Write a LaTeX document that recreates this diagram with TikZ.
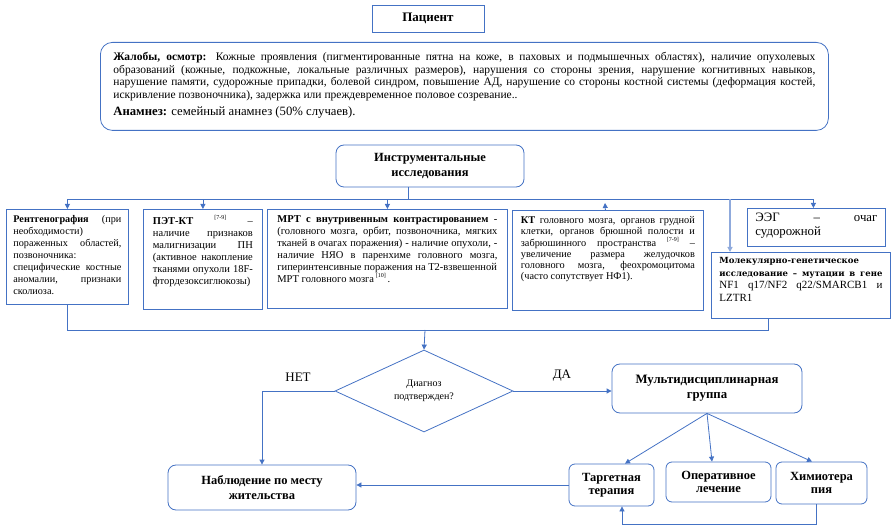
\documentclass[tikz,border=0pt]{standalone}
\usepackage{fontspec}
\setmainfont{Liberation Serif}
\newfontfamily\dvs{DejaVu Serif}
\usetikzlibrary{arrows.meta,shapes.geometric}
\definecolor{bl}{HTML}{4472C4}
\definecolor{lbl}{HTML}{8FAADC}
\newcommand{\pb}[3]{\parbox[b][#2][t]{#1}{#3}}
\newcommand{\rf}[1]{\raisebox{5pt}{\fontsize{6}{6}\selectfont[#1]}}
\hyphenpenalty=10000
\begin{document}
\begin{tikzpicture}[x=1pt,y=-1pt,
  box/.style={draw=bl, line width=0.8pt, fill=white, text=black},
  tbox/.style={box, anchor=north west},
  ln/.style={draw=bl, line width=0.8pt},
  arr/.style={ln, -{Triangle[width=5pt,length=5pt]}},
  hd/.style={font=\bfseries\fontsize{12.5}{15}\selectfont, align=center}
]
\useasboundingbox (0,0) rectangle (892,529);

% --- top
\node[box, hd, minimum width=112pt, minimum height=27pt, font=\bfseries\fontsize{13}{15}\selectfont] (pat) at (428,18.5) {Пациент};

\node[tbox, rounded corners=12pt, inner xsep=13pt, inner ysep=10pt] (compl) at (100,42)
{\pb{702pt}{68pt}{\fontsize{11.5}{12.6}\selectfont
\textbf{Жалобы, осмотр:} Кожные проявления (пигментированные пятна на коже, в паховых и подмышечных областях), наличие опухолевых\linebreak
образований (кожные, подкожные, локальные различных размеров), нарушения со стороны зрения, нарушение когнитивных навыков,\linebreak
нарушение памяти, судорожные припадки, болевой синдром, повышение АД, нарушение со стороны костной системы (деформация костей,\linebreak
искривление позвоночника), задержка или преждевременное половое созревание..\par
\vspace{4pt}{\fontsize{12.7}{13}\selectfont\textbf{Анамнез:} семейный анамнез (50\% случаев).\par}}};

\node[box, hd, rounded corners=8pt, minimum width=188pt, minimum height=42pt] (instr) at (430,166) {Инструментальные\\исследования};

% --- investigations
\node[tbox, inner xsep=7pt, inner ysep=6pt] (rent) at (6,209)
{\pb{108pt}{83pt}{\fontsize{10.2}{12}\selectfont
\textbf{Рентгенография} (при\linebreak необходимости)\newline пораженных областей,\linebreak позвоночника:\newline специфические костные\linebreak аномалии, признаки\linebreak сколиоза.}};

\node[tbox, inner xsep=9.5pt, inner ysep=6pt] (pet) at (143,209)
{\pb{100pt}{88pt}{\fontsize{10.5}{12}\selectfont
\textbf{ПЭТ-КТ} \rf{7-9} –\linebreak наличие признаков\linebreak малигнизации ПН\linebreak (активное накопление\linebreak тканями опухоли 18F-\linebreak фтордезоксиглюкозы)}};

\node[tbox, inner xsep=10pt, inner ysep=6pt] (mri) at (267,209)
{\pb{220pt}{87pt}{\fontsize{10.5}{12}\selectfont
\textbf{МРТ с внутривенным контрастированием} -\linebreak (головного мозга, орбит, позвоночника, мягких\linebreak тканей в очагах поражения) - наличие опухоли, -\linebreak наличие НЯО в паренхиме головного мозга,\linebreak гиперинтенсивные поражения на Т2-взвешенной\newline МРТ головного мозга\,\rf{10}\,.}};

\node[tbox, inner xsep=8.5pt, inner ysep=6pt] (kt) at (512,210)
{\pb{174pt}{88pt}{\fontsize{10.3}{10.8}\selectfont
\textbf{КТ} головного мозга, органов грудной\linebreak клетки, органов брюшной полости и\linebreak забрюшинного пространства \rf{7-9} –\linebreak увеличение размера желудочков\linebreak головного мозга, феохромоцитома\linebreak (часто сопутствует НФ1).}};

\node[tbox, inner xsep=8pt, inner ysep=5pt] (eeg) at (747,208)
{\pb{122pt}{28pt}{\fontsize{12.8}{14}\selectfont ЭЭГ – очаг\linebreak судорожной}};

\node[tbox, inner xsep=8pt, inner ysep=5pt] (mol) at (711,252)
{\pb{163pt}{56pt}{\fontsize{11}{12.5}\selectfont
{\dvs\bfseries\fontsize{8.5}{12.5}\selectfont Молекулярно-генетическое\newline исследование – мутации в гене}\linebreak NF1 q17/NF2 q22/SMARCB1 и\linebreak LZTR1}};

% --- decision
\node[draw=bl, line width=0.8pt, diamond, aspect=2.2, minimum width=178pt, minimum height=82pt, inner sep=0pt, align=center, font=\fontsize{10}{13}\selectfont] (diam) at (424,391) {Диагноз\\подтвержден?};
\node[font=\fontsize{13}{15}\selectfont] (net) at (298,377) {НЕТ};
\node[font=\fontsize{13}{15}\selectfont] (da) at (562,376) {ДА};

\node[box, hd, rounded corners=8pt, minimum width=190pt, minimum height=49pt, font=\bfseries\fontsize{12.8}{15}\selectfont] (multi) at (707,388.5) {Мультидисциплинарная\\группа};
\node[box, hd, rounded corners=8pt, minimum width=188pt, minimum height=45pt] (obs) at (262,487.5) {Наблюдение по месту\\жительства};
\node[box, hd, rounded corners=6pt, minimum width=85pt, minimum height=42pt, font=\bfseries\fontsize{12.5}{13.5}\selectfont] (targ) at (611.5,485) {Таргетная\\терапия};
\node[box, hd, rounded corners=6pt, minimum width=105pt, minimum height=40pt, font=\bfseries\fontsize{12.5}{13.5}\selectfont] (oper) at (718.5,482) {Оперативное\\лечение};
\node[box, hd, rounded corners=6pt, minimum width=91pt, minimum height=42pt, font=\bfseries\fontsize{12.5}{13.5}\selectfont] (chem) at (821.5,483) {Химиотера\\пия};

% --- connectors
\coordinate (j0) at (408,199);
\coordinate (jm) at (730,199);
\coordinate (kttip) at (605,203);
\coordinate (b0) at (425,330);
\coordinate (lp) at (622,524);

\draw[ln] ([xshift=-22pt]instr.south) -- (j0);
\draw[arr] (j0) -| (rent.north);
\draw[arr] (j0) -| (pet.north);
\draw[arr] (j0) -| (mri.north);
\draw[arr] (j0) -| ([xshift=-3pt]eeg.north);
\draw[arr, draw=lbl, line width=1.2pt] (jm) -- (jm |- mol.north);
\draw[arr] ([xshift=-2.5pt]kt.north) -- (kttip);

\draw[ln] (rent.south) |- (b0);
\draw[ln] ([xshift=-32.5pt]mol.south) |- (b0);
\draw[arr] (b0) -- (diam.north);

\draw[arr] (diam.west) -| (obs.north);
\draw[arr] (diam.east) -- (diam.east -| multi.west);

\draw[arr] (multi.south) -- ([xshift=13.5pt]targ.north);
\draw[arr] (multi.south) -- ([xshift=-6.5pt]oper.north);
\draw[arr] (multi.south) -- ([xshift=-9.5pt]chem.north);

\draw[arr] (targ.west) -- (targ.west -| obs.east);
\draw[arr] ([xshift=-5.5pt]chem.south) |- (lp) -- ([xshift=10.5pt]targ.south);
\end{tikzpicture}
\end{document}
